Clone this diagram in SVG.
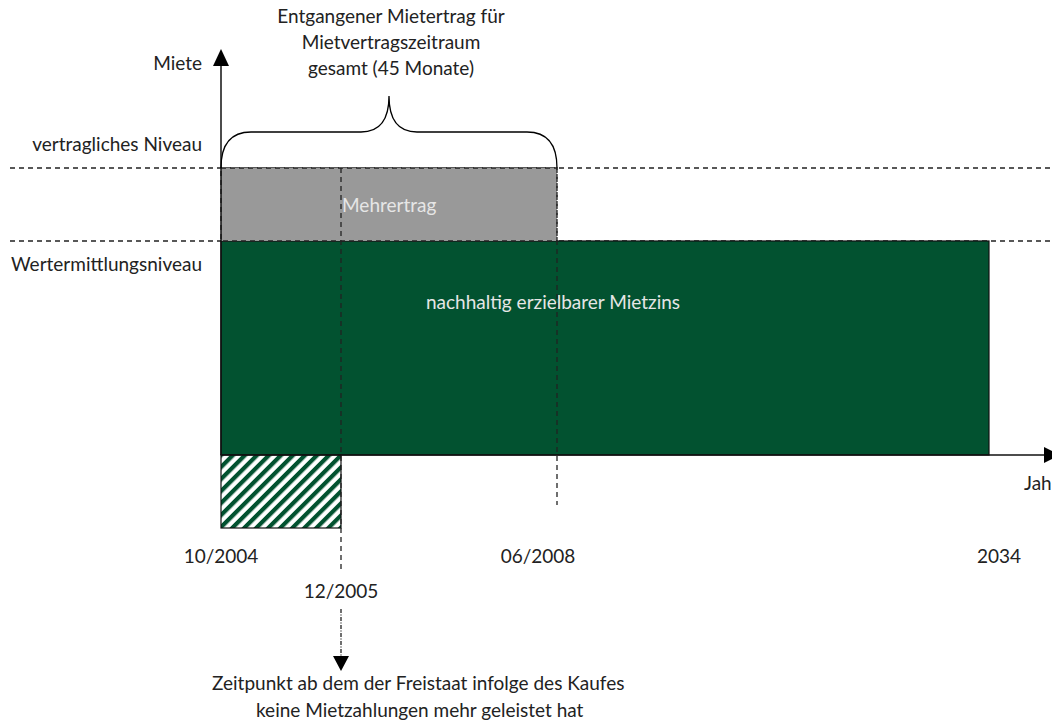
<svg xmlns="http://www.w3.org/2000/svg" width="1052" height="725" viewBox="0 0 1052 725">
<defs>
<style>
text{font-family:Lato,"Open Sans","Liberation Sans",sans-serif;font-size:19px;fill:#222}
.light{fill:#e6e6e6}
.dash{fill:none;stroke:#222;stroke-width:1.3;stroke-dasharray:5,4}
.axis{fill:none;stroke:#111;stroke-width:1.5}
</style>
<pattern id="hatch" width="8.5" height="8.5" patternUnits="userSpaceOnUse" patternTransform="rotate(45)">
<rect width="8.5" height="8.5" fill="#fff"/>
<rect width="4.2" height="8.5" fill="#025230"/>
</pattern>
</defs>
<rect width="1052" height="725" fill="#fff"/>
<g id="levels">
<line class="dash" x1="10" y1="168" x2="1052" y2="168"/>
<line class="dash" x1="10" y1="241" x2="1052" y2="241"/>
</g>
<g id="mietzins">
<rect x="221" y="241" width="768" height="214" fill="#025230" stroke="#111" stroke-width="1.2"/>
<text class="light" x="553" y="309" text-anchor="middle">nachhaltig erzielbarer Mietzins</text>
</g>
<g id="mehrertrag">
<rect x="221" y="168" width="336" height="73" fill="#999" stroke="#222" stroke-width="1.3" stroke-dasharray="5,4"/>
<text class="light" x="342" y="212">Mehrertrag</text>
</g>
<g id="hatched">
<rect x="221" y="455" width="120" height="73" fill="url(#hatch)" stroke="#111" stroke-width="1.2"/>
</g>
<g id="connectors">
<line class="axis" x1="221" y1="455" x2="221" y2="62"/>
<polygon points="221,49 213,66 229,66" fill="#000"/>
<line class="axis" x1="221" y1="455" x2="1048" y2="455"/>
<polygon points="1044,447 1060,455 1044,463" fill="#000"/>
<line class="dash" x1="341" y1="168" x2="341" y2="572"/>
<line class="dash" x1="557" y1="168" x2="557" y2="505"/>
<line fill="none" stroke="#222" stroke-width="1.3" stroke-dasharray="4,1.5,1,1.5" x1="341" y1="609" x2="341" y2="658"/>
<polygon points="333,656 349,656 341,671" fill="#000"/>
<path d="M221,168 C221,146 230,132 251,132 L361,132 C381,132 389,118 389,96 C389,118 397,132 417,132 L527,132 C548,132 557,146 557,168" fill="none" stroke="#000" stroke-width="1.3"/>
</g>
<g id="labels">
<text x="391" y="23" text-anchor="middle">Entgangener Mietertrag für</text>
<text x="391" y="49" text-anchor="middle">Mietvertragszeitraum</text>
<text x="391" y="75" text-anchor="middle">gesamt (45 Monate)</text>
<text x="202" y="70" text-anchor="end">Miete</text>
<text x="202" y="151" text-anchor="end">vertragliches Niveau</text>
<text x="202" y="271" text-anchor="end">Wertermittlungsniveau</text>
<text x="1024" y="490">Jah</text>
<text x="221" y="563" text-anchor="middle">10/2004</text>
<text x="538" y="563" text-anchor="middle">06/2008</text>
<text x="999" y="563" text-anchor="middle">2034</text>
<text x="341" y="598" text-anchor="middle">12/2005</text>
<text x="212" y="690">Zeitpunkt ab dem der Freistaat infolge des Kaufes</text>
<text x="256" y="717">keine Mietzahlungen mehr geleistet hat</text>
</g>
</svg>
